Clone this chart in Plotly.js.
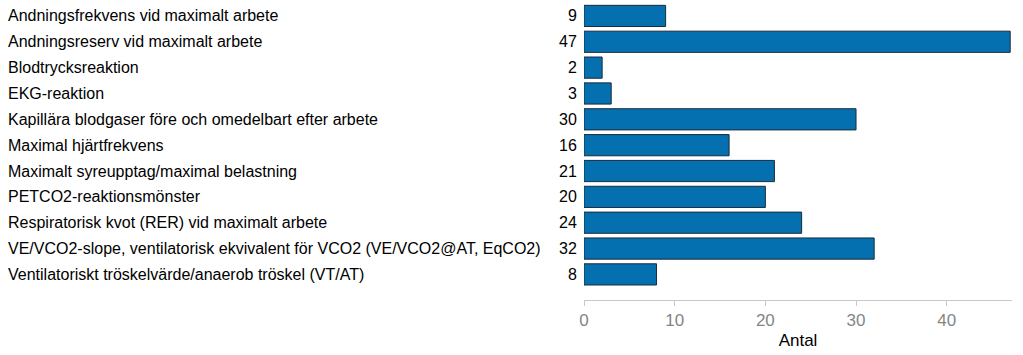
<!DOCTYPE html>
<html><head><meta charset="utf-8">
<script src="https://cdn.plot.ly/plotly-3.0.1.min.js"></script>
<style>body{margin:0;padding:0;background:#fff}#chart{width:1023px;height:355px}</style>
</head><body><div id="chart"></div>
<script>
const categories = [
  "Andningsfrekvens vid maximalt arbete",
  "Andningsreserv vid maximalt arbete",
  "Blodtrycksreaktion",
  "EKG-reaktion",
  "Kapillära blodgaser före och omedelbart efter arbete",
  "Maximal hjärtfrekvens",
  "Maximalt syreupptag/maximal belastning",
  "PETCO2-reaktionsmönster",
  "Respiratorisk kvot (RER) vid maximalt arbete",
  "VE/VCO2-slope, ventilatorisk ekvivalent för VCO2 (VE/VCO2@AT, EqCO2)",
  "Ventilatoriskt tröskelvärde/anaerob tröskel (VT/AT)"
];
const values = [9, 47, 2, 3, 30, 16, 21, 20, 24, 32, 8];
const xTicks = [0, 10, 20, 30, 40];
const xTitle = "Antal";

const marginL = 584, marginR = 11, W = 1023;
const plotW = W - marginL - marginR;
const FONT = '"Liberation Sans", Arial, sans-serif';

const annotations = [];
categories.forEach((c, i) => {
  annotations.push({xref: 'paper', yref: 'y', x: -(marginL - 6) / plotW, y: c, text: c,
    showarrow: false, xanchor: 'left', yanchor: 'middle',
    font: {family: FONT, size: 16, color: '#000'}});
  annotations.push({xref: 'paper', yref: 'y', x: -5 / plotW, y: c, text: String(values[i]),
    showarrow: false, xanchor: 'right', yanchor: 'middle',
    font: {family: FONT, size: 16, color: '#000'}});
});

const trace = {
  type: 'bar', orientation: 'h', x: values, y: categories, width: 0.82,
  marker: {color: '#0570b0', line: {color: '#1a2a3a', width: 1}},
  hoverinfo: 'x+y'
};

const layout = {
  width: 1023, height: 355,
  margin: {l: marginL, r: marginR, t: 3, b: 55},
  paper_bgcolor: '#fff', plot_bgcolor: '#fff',
  showlegend: false,
  xaxis: {
    range: [0, 47.2], tickvals: xTicks, ticktext: xTicks.map(String),
    showgrid: false, zeroline: false, showline: true, linecolor: '#c8c8c8', linewidth: 1,
    ticks: 'outside', ticklen: 5, tickcolor: '#c8c8c8',
    tickfont: {family: FONT, size: 17, color: '#858585'},
    title: {text: xTitle, standoff: 4, font: {family: FONT, size: 17, color: '#000'}}
  },
  yaxis: {
    type: 'category', categoryorder: 'array', categoryarray: categories,
    range: [10.99, -0.5], showticklabels: false, showgrid: false, zeroline: false,
    showline: false, ticks: ''
  },
  annotations: annotations
};

Plotly.newPlot('chart', [trace], layout, {displayModeBar: false, staticPlot: true});
</script></body></html>
